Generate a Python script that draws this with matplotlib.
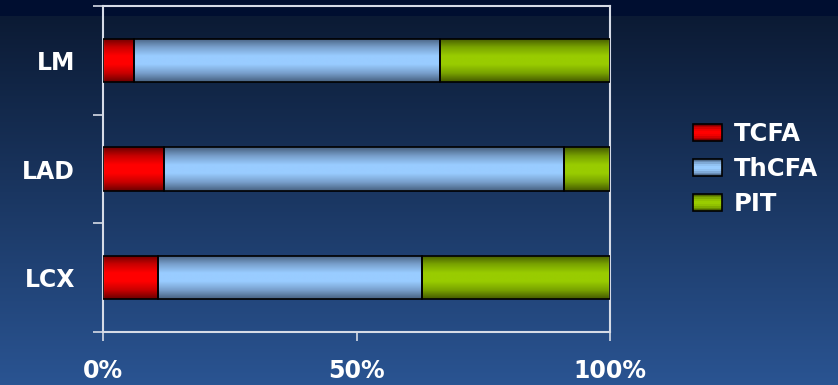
import numpy as np
import matplotlib
matplotlib.use("Agg")
import matplotlib.pyplot as plt
from matplotlib.colors import LinearSegmentedColormap
from matplotlib.patches import Rectangle
from matplotlib.legend_handler import HandlerPatch

# data (percent of plaques per vessel)
vessels = ["LM", "LAD", "LCX"]
series_names = ["TCFA", "ThCFA", "PIT"]
tcfa = [6.1, 12.0, 10.9]
thcfa = [60.3, 78.9, 52.1]
pit = [33.6, 9.1, 37.0]
x_ticks = [0, 50, 100]
x_tick_labels = ["0%", "50%", "100%"]

# shading per series: edge colour -> centre colour -> edge colour
shades = {
    "TCFA": ["#6a0000", "#c80000", "#ff0000", "#ff0000", "#c80000", "#6a0000"],
    "ThCFA": ["#46607f", "#789fcb", "#99ccff", "#99ccff", "#789fcb", "#46607f"],
    "PIT": ["#445800", "#78a200", "#99cc00", "#99cc00", "#78a200", "#445800"],
}
cmaps = {k: LinearSegmentedColormap.from_list(k, v) for k, v in shades.items()}

plt.rcParams['font.family'] = ['DejaVu Sans']
plt.rcParams['font.weight'] = 'bold'
plt.rcParams['xtick.direction'] = 'out'
plt.rcParams['ytick.direction'] = 'out'

fig = plt.figure(figsize=(8.38, 3.85), dpi=100)

# slide background
bg = fig.add_axes([0, 0, 1, 1], zorder=-10)
bg.axis('off')
rows = np.linspace(0, 1, 385)
top_c = np.array([10, 24, 48]) / 255
bot_c = np.array([42, 84, 146]) / 255
grad = top_c[None, :] * (1 - rows[:, None]) + bot_c[None, :] * rows[:, None]
grad[:16] = np.array([0, 14, 48]) / 255
bg.imshow(grad[:, None, :], aspect='auto', extent=[0, 1, 0, 1], origin='upper')
bg.set_xlim(0, 1)
bg.set_ylim(0, 1)

ax = fig.add_axes([103/838, 53/385, 507/838, 326/385])
ax.set_facecolor('none')

y = np.arange(len(vessels))
left = np.zeros(len(vessels))
bars = {}
for name, vals in zip(series_names, [tcfa, thcfa, pit]):
    bc = ax.barh(y, vals, left=left, height=0.4, color=shades[name][2],
                 edgecolor='black', linewidth=1.2, zorder=3, label=name)
    bars[name] = bc
    left = left + np.array(vals)

# vertical shading inside every bar
g = np.linspace(0, 1, 128)[:, None]
for name, bc in bars.items():
    for p in bc.patches:
        x0, y0 = p.get_x(), p.get_y()
        w, h = p.get_width(), p.get_height()
        im = ax.imshow(g, cmap=cmaps[name], aspect='auto', zorder=2,
                       extent=[x0, x0 + w, y0 + h, y0], origin='upper',
                       interpolation='bilinear')
        im.set_clip_path(p)
        p.set_facecolor('none')

ax.set_xlim(0, 100)
ax.set_ylim(2.5, -0.5)

spine_c = '#d6dbe6'
for s in ax.spines.values():
    s.set_color(spine_c)
    s.set_linewidth(1.5)

ax.set_xticks(x_ticks)
ax.set_xticklabels(x_tick_labels, fontsize=17, color='white', fontweight='bold')
ax.tick_params(axis='x', length=6.5, width=1.2, color=spine_c, pad=13)

ax.set_yticks(y)
ax.set_yticklabels(vessels, fontsize=17, color='white', fontweight='bold')
ax.set_yticks([-0.5, 0.5, 1.5, 2.5], minor=True)
ax.tick_params(axis='y', which='major', length=0, pad=20)
ax.tick_params(axis='y', which='minor', length=7.5, width=1.2, color=spine_c)


class GradientBox(HandlerPatch):
    # legend key drawn as horizontal strips of the bar shading
    def __init__(self, cmap):
        super().__init__()
        self.cmap = cmap

    def create_artists(self, legend, orig_handle, xdescent, ydescent,
                       width, height, fontsize, trans):
        arts = []
        n = 10
        for i in range(n):
            t = (i + 0.5) / n
            r = Rectangle((-xdescent, -ydescent + height * i / n), width,
                          height / n, facecolor=self.cmap(t),
                          edgecolor='none', transform=trans)
            arts.append(r)
        arts.append(Rectangle((-xdescent, -ydescent), width, height,
                              facecolor='none', edgecolor='black',
                              linewidth=1.2, transform=trans))
        return arts


handles = [bars[n].patches[0] for n in series_names]
leg = ax.legend(handles, series_names, loc='center left',
                bbox_to_anchor=(1.12, 0.5), frameon=False,
                fontsize=17.5, labelcolor='white', handlelength=1.2,
                handleheight=0.7, handletextpad=0.5, labelspacing=0.45,
                handler_map={bars[n].patches[0]: GradientBox(cmaps[n])
                             for n in series_names})
for t in leg.get_texts():
    t.set_fontweight('bold')

fig.savefig("out.png", dpi=100)
